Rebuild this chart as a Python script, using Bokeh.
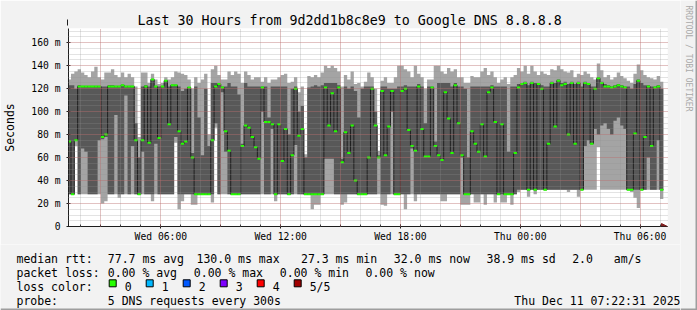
import math
import pandas as pd
from bokeh.plotting import figure
from bokeh.layouts import column, row
from bokeh.core.properties import value
from bokeh.models import (Range1d, FixedTicker, DatetimeTickFormatter, Arrow, NormalHead)
from bokeh.embed import file_html
from bokeh.resources import INLINE

# ---------------- data ----------------
TITLE = "Last 30 Hours from 9d2dd1b8c8e9 to Google DNS 8.8.8.8"
WATERMARK = "RRDTOOL / TOBI OETIKER"
RANGE_START = "2025-12-10 01:22:31"
RANGE_END = "2025-12-11 07:22:31"
FIRST_STEP = "2025-12-10 01:20:00"
STEP_MINUTES = 10

# five sorted pings per step (ms): min, 2nd, median, 4th, max
ping_min = [28, 28, 70, 28, 28, 28, 28, 28, 28, 28,
            20, 22, 28, 28, 28, 25, 28, 28, 28, 28,
            28, 28, 28, 28, 28, 22, 28, 28, 28, 28,
            28, 28, 73, 15, 22, 28, 28, 19, 19, 28,
            28, 28, 28, 21, 86, 28, 28, 28, 28, 28,
            28, 28, 28, 28, 28, 28, 28, 28, 28, 28,
            28, 28, 22, 28, 28, 28, 28, 28, 28, 28,
            28, 28, 28, 15, 19, 19, 28, 28, 28, 28,
            28, 28, 19, 21, 28, 28, 28, 28, 28, 28,
            28, 28, 28, 28, 19, 18, 28, 28, 28, 28,
            28, 15, 28, 28, 22, 28, 28, 28, 28, 28,
            28, 28, 22, 22, 28, 28, 28, 28, 19, 19,
            19, 28, 21, 21, 28, 19, 28, 28, 21, 28,
            21, 21, 28, 19, 28, 30, 32, 32, 26, 32,
            28, 32, 32, 32, 32, 32, 32, 32, 32, 32,
            30, 32, 32, 26, 32, 32, 32, 32, 32, 69,
            32, 32, 32, 32, 32, 32, 32, 32, 32, 30,
            25, 16, 32, 32, 32, 32, 32, 32, 24]
ping_q1 = [28, 28, 75, 28, 68, 65, 28, 28, 28, 75,
           76, 78, 28, 28, 97, 28, 28, 114, 28, 70,
           28, 28, 65, 28, 28, 28, 72, 28, 28, 28,
           28, 28, 78, 28, 28, 28, 28, 28, 28, 28,
           28, 28, 28, 28, 90, 28, 117, 65, 28, 28,
           28, 28, 28, 28, 28, 28, 28, 28, 100, 28,
           28, 85, 28, 28, 28, 28, 28, 28, 71, 28,
           28, 28, 28, 28, 28, 28, 28, 59, 59, 59,
           28, 28, 28, 28, 28, 28, 28, 28, 28, 28,
           28, 28, 28, 60, 28, 28, 28, 100, 28, 28,
           28, 28, 28, 68, 28, 28, 28, 28, 28, 28,
           28, 28, 28, 28, 28, 28, 28, 28, 60, 28,
           28, 28, 28, 28, 28, 28, 28, 28, 28, 28,
           28, 28, 28, 28, 28, 32, 32, 32, 32, 32,
           32, 32, 32, 32, 32, 32, 32, 32, 32, 32,
           32, 32, 32, 32, 32, 70, 75, 72, 85, 80,
           88, 90, 85, 80, 92, 95, 88, 85, 32, 32,
           32, 32, 32, 32, 60, 32, 32, 75, 32]
median = [74, 28, 75, 122, 122, 122, 122, 122, 122, 122,
          78, 80, 122, 122, 122, 122, 123, 122, 122, 122,
          75, 28, 75, 122, 73, 128, 122, 77, 122, 127,
          89, 123, 123, 83, 72, 74, 121, 60, 28, 28,
          28, 28, 28, 75, 122, 124, 121, 83, 66, 28,
          28, 28, 70, 88, 86, 78, 69, 59, 121, 91,
          91, 89, 28, 89, 57, 85, 28, 62, 120, 79,
          85, 28, 28, 28, 28, 28, 28, 121, 88, 116,
          83, 121, 56, 82, 64, 88, 40, 28, 28, 28,
          60, 120, 88, 60, 118, 62, 87, 118, 28, 28,
          118, 120, 84, 70, 66, 122, 85, 61, 61, 121,
          70, 62, 58, 117, 94, 64, 123, 90, 62, 28,
          28, 83, 72, 65, 89, 61, 117, 121, 91, 28,
          89, 28, 28, 28, 64, 121, 124, 125, 32, 125,
          32, 124, 120, 32, 72, 125, 87, 127, 123, 124,
          80, 125, 72, 125, 32, 125, 124, 72, 120, 129,
          125, 122, 122, 121, 122, 123, 122, 121, 32, 32,
          81, 127, 32, 78, 122, 70, 121, 122, 32]
ping_q3 = [123, 123, 120, 123, 122, 122, 122, 122, 122, 122,
           122, 122, 123, 123, 122, 122, 123, 122, 122, 122,
           90, 60, 122, 123, 122, 128, 122, 122, 122, 127,
           122, 123, 123, 122, 118, 120, 121, 64, 122, 95,
           62, 120, 70, 125, 125, 124, 122, 122, 125, 122,
           122, 115, 72, 125, 122, 122, 122, 122, 122, 122,
           95, 122, 122, 122, 122, 122, 80, 120, 122, 100,
           105, 60, 121, 122, 123, 122, 123, 125, 125, 125,
           125, 123, 59, 122, 120, 122, 118, 95, 120, 122,
           122, 122, 100, 62, 122, 122, 120, 120, 120, 122,
           122, 123, 122, 122, 122, 124, 122, 90, 122, 122,
           74, 125, 125, 125, 125, 122, 125, 122, 122, 120,
           60, 122, 122, 122, 122, 122, 122, 123, 122, 122,
           122, 122, 65, 122, 122, 124, 125, 126, 123, 126,
           125, 125, 123, 122, 122, 126, 125, 128, 125, 126,
           124, 126, 124, 126, 122, 126, 125, 122, 122, 130,
           126, 124, 123, 122, 123, 124, 123, 122, 122, 120,
           124, 128, 125, 123, 123, 122, 122, 123, 120]
ping_max = [128, 133, 135, 137, 134, 132, 130, 135, 139, 130,
            128, 134, 134, 137, 132, 130, 134, 130, 133, 130,
            122, 78, 134, 134, 125, 133, 128, 124, 125, 130,
            128, 130, 135, 134, 133, 132, 128, 120, 130, 125,
            128, 133, 80, 137, 140, 132, 128, 128, 135, 132,
            135, 133, 125, 135, 132, 128, 130, 130, 126, 130,
            125, 128, 128, 130, 132, 133, 125, 126, 130, 117,
            122, 63, 131, 130, 132, 130, 134, 140, 138, 140,
            138, 135, 122, 132, 128, 135, 124, 125, 122, 126,
            134, 130, 120, 66, 127, 130, 125, 125, 130, 140,
            140, 137, 135, 130, 140, 133, 130, 120, 128, 128,
            140, 140, 135, 133, 138, 135, 137, 130, 130, 125,
            125, 131, 130, 130, 135, 138, 132, 135, 130, 125,
            128, 130, 124, 130, 132, 138, 135, 140, 133, 140,
            135, 132, 135, 133, 132, 137, 136, 140, 137, 135,
            134, 136, 130, 133, 132, 135, 133, 130, 128, 142,
            136, 130, 132, 128, 130, 134, 131, 129, 127, 125,
            133, 141, 136, 132, 130, 129, 128, 131, 126]

x_tick_times = ["2025-12-10 06:00", "2025-12-10 12:00", "2025-12-10 18:00",
                "2025-12-11 00:00", "2025-12-11 06:00"]
y_ticks = [0, 20, 40, 60, 80, 100, 120, 140, 160]
y_tick_labels = ["0", "20 m", "40 m", "60 m", "80 m", "100 m", "120 m", "140 m", "160 m"]

legend_row1 = ["median rtt:", "77.7 ms avg", "130.0 ms max", "27.3 ms min",
               "32.0 ms now", "38.9 ms sd", "2.0", "am/s"]
legend_row2 = ["packet loss:", "0.00 % avg", "0.00 % max", "0.00 % min", "0.00 % now"]
loss_labels = ["0", "1", "2", "3", "4", "5/5"]
loss_colors = ["#26ff00", "#00b8ff", "#0059ff", "#7e00ff", "#ff0000", "#a10000"]
probe_text = "5 DNS requests every 300s"
stamp_text = "Thu Dec 11 07:22:31 2025"

# ---------------- build ----------------
FONT = "DejaVu Sans Mono"
BG = "#f2f2f2"
SHADE = "#9e9e9e"


def ms(t):
    return pd.Timestamp(t).value // 10**6


n = len(median)
edges = pd.date_range(FIRST_STEP, periods=n + 1, freq=f"{STEP_MINUTES}min")
starts = edges[:-1]
ends = edges[1:]


def ext(a):
    return list(a) + [a[-1]]


p = figure(width=680, height=244, x_axis_type="datetime", output_backend="svg",
           toolbar_location=None,
           x_range=Range1d(pd.Timestamp(RANGE_START), pd.Timestamp(RANGE_END)),
           y_range=Range1d(0, 172.4),
           min_border_left=67, min_border_right=13, min_border_top=28, min_border_bottom=16)
p.frame_align = False
p.background_fill_color = "white"
p.border_fill_color = BG
p.outline_line_color = None

# title
p.title.text = TITLE
p.title.align = "left"
p.title.offset = 69
p.title.text_font = FONT
p.title.text_font_size = "13.3px"
p.title.text_font_style = "normal"
p.title.text_color = "black"
p.title.standoff = 2

# smoke
p.varea_step(x=list(edges), y1=ext(ping_min), y2=ext(ping_max), step_mode="after",
             fill_color="#a4a4a4")
p.varea_step(x=list(edges), y1=ext(ping_q1), y2=ext(ping_q3), step_mode="after",
             fill_color="#585858")
# median
p.step(x=list(edges), y=ext(median), mode="after", line_color="#202020", line_width=1)
p.segment(x0=list(starts), y0=median, x1=list(ends), y1=median,
          line_color=loss_colors[0], line_width=2, line_cap="butt")

# grids
three_h = [ms(t) for t in pd.date_range("2025-12-10 03:00", "2025-12-11 06:00", freq="3h")]
hours = [ms(t) for t in pd.date_range("2025-12-10 02:00", "2025-12-11 07:00", freq="1h")]
p.xgrid.ticker = FixedTicker(ticks=three_h, minor_ticks=hours)
p.ygrid.ticker = FixedTicker(ticks=y_ticks[1:], minor_ticks=list(range(5, 175, 5)))
for g in (p.xgrid[0], p.ygrid[0]):
    g.grid_line_color = "#de4f4f"
    g.grid_line_alpha = 0.45
    g.grid_line_dash = "1 1"
    g.minor_grid_line_color = "#8f8f8f"
    g.minor_grid_line_alpha = 0.5
    g.minor_grid_line_dash = "1 1"
    g.level = "overlay"

# axes
p.xaxis.ticker = FixedTicker(ticks=[ms(t) for t in x_tick_times], minor_ticks=hours)
fmt = "%a %H:%M"
p.xaxis.formatter = DatetimeTickFormatter(
    microseconds=fmt, milliseconds=fmt, seconds=fmt, minsec=fmt, minutes=fmt,
    hourmin=fmt, hours=fmt, days=fmt, months=fmt, years=fmt)
p.yaxis.ticker = FixedTicker(ticks=y_ticks)
p.yaxis.major_label_overrides = {v: s for v, s in zip(y_ticks, y_tick_labels)}
for ax in (p.xaxis[0], p.yaxis[0]):
    ax.axis_line_color = "#1f1f1f"
    ax.major_tick_line_color = "#1f1f1f"
    ax.minor_tick_line_color = "#1f1f1f"
    ax.major_tick_in = 2
    ax.major_tick_out = 2
    ax.minor_tick_in = 2
    ax.minor_tick_out = 0
    ax.major_label_text_font = FONT
    ax.major_label_text_font_size = "9.7px"
    ax.major_label_text_color = "black"
p.yaxis.minor_tick_line_color = None
p.xaxis.major_label_standoff = 2
p.yaxis.major_label_standoff = 6
p.yaxis.axis_label = "Seconds"
p.yaxis.axis_label_text_font = FONT
p.yaxis.axis_label_text_font_size = "11.5px"
p.yaxis.axis_label_text_font_style = "normal"
p.yaxis.axis_label_text_color = "black"
p.yaxis.axis_label_standoff = 11

# axis arrows
p.add_layout(Arrow(x_start=67, y_start=232, x_end=67, y_end=19,
                   start_units="canvas", end_units="canvas", line_color="#1f1f1f",
                   line_width=1, start=None,
                   end=NormalHead(size=6, fill_color="#801f1f", line_color="#801f1f")))
p.add_layout(Arrow(x_start=pd.Timestamp(RANGE_START), y_start=0,
                   x_end=pd.Timestamp(RANGE_END), y_end=0,
                   line_color="#1f1f1f", line_width=1, start=None,
                   end=NormalHead(size=6, fill_color="#801f1f", line_color="#801f1f")))


def strip(width, height, x0, x1, y0, y1):
    f = figure(width=width, height=height, output_backend="svg", toolbar_location=None,
               x_range=Range1d(x0, x1), y_range=Range1d(y1, y0),
               x_axis_location=None, y_axis_location=None,
               min_border=0, min_border_left=0, min_border_right=0,
               min_border_top=0, min_border_bottom=0)
    f.frame_align = False
    f.background_fill_color = BG
    f.border_fill_color = BG
    f.outline_line_color = None
    f.xgrid.visible = False
    f.ygrid.visible = False
    return f


# ---------------- legend block (page pixel coordinates) ----------------
q = strip(680, 66, 0, 680, 244, 310)

row1_x = [16, 107.3, 196, 300.5, 393.3, 486, 571.7, 613.3]
row2_x = [16, 107.3, 193.3, 279.3, 365]
tx, ty, tt = [], [], []
for x, t in zip(row1_x, legend_row1):
    tx.append(x); ty.append(258.3); tt.append(t)
for x, t in zip(row2_x, legend_row2):
    tx.append(x); ty.append(272.3); tt.append(t)
tx.append(16); ty.append(286.3); tt.append("loss color:")
sq_l, sq_r = [], []
for i, lab in enumerate(loss_labels):
    x0 = 108.7 + i * 37
    sq_l.append(x0); sq_r.append(x0 + 7)
    tx.append(x0 + 15.5); ty.append(286.3); tt.append(lab)
tx.append(16); ty.append(300.3); tt.append("probe:")
tx.append(107.3); ty.append(300.3); tt.append(probe_text)

q.text(x=tx, y=ty, text=tt, text_font=value(FONT), text_font_size="11.5px",
       text_baseline="alphabetic", text_align="left", text_color="black")
q.text(x=[680], y=[300.3], text=[stamp_text], text_font=value(FONT),
       text_font_size="11.5px", text_baseline="alphabetic", text_align="right",
       text_color="black")
q.quad(left=sq_l, right=sq_r, top=[279.3] * len(sq_l), bottom=[286.3] * len(sq_l),
       fill_color=loss_colors, line_color="black", line_width=1)
q.quad(left=[0], right=[680], top=[308], bottom=[310], fill_color=SHADE, line_color=None)

# ---------------- right strip with the watermark ----------------
w = strip(17, 310, 680, 697, 0, 310)
w.text(x=[688], y=[5], text=[WATERMARK], angle=-math.pi / 2, text_font=value(FONT),
       text_font_size="8px", text_baseline="middle", text_align="left",
       text_color="#a9a9a9")
w.quad(left=[695], right=[697], top=[0], bottom=[310], fill_color=SHADE, line_color=None)
w.quad(left=[680], right=[697], top=[308], bottom=[310], fill_color=SHADE, line_color=None)

layout = row(column(p, q, spacing=0), w, spacing=0)
open("out.html", "w").write(file_html(layout, INLINE))
